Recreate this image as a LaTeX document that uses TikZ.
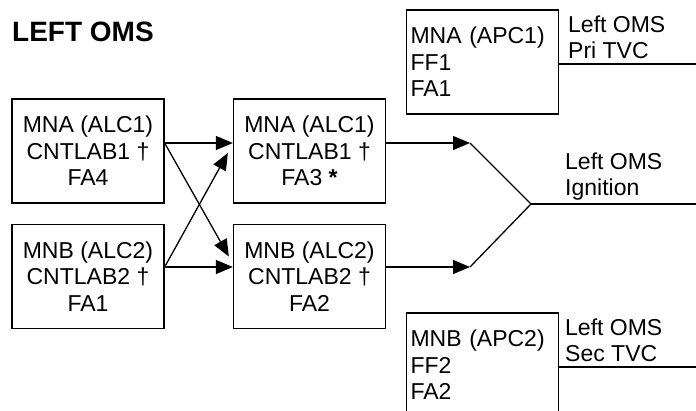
\documentclass[tikz,border=0pt]{standalone}
\usepackage{fontspec}
\setmainfont{Liberation Sans}
\usetikzlibrary{arrows.meta, calc}
\tikzset{
  oms@box/.style={
    draw, line width=1.3pt, minimum width=152pt, minimum height=104pt,
    inner sep=0pt, align=center, font=\fontsize{23}{26.5}\selectfont
  },
  oms@apc/.style={oms@box, align=left, text width=144pt, inner xsep=4pt},
  oms@lbl/.style={anchor=west, inner sep=2pt, align=left,
    font=\fontsize{23}{26}\selectfont},
  oms@arr/.style={-{Triangle[length=17pt,width=14pt]}, line width=1.3pt},
  oms@line/.style={line width=1.3pt},
}

\begin{document}
\begin{tikzpicture}[x=1pt, y=-1pt]
  \useasboundingbox (0,0) rectangle (696,410);
  \clip (0,0) rectangle (696,410);

  \node[anchor=west, inner sep=2pt, font=\fontsize{28}{30}\selectfont\bfseries]
    (title) at (10,32) {LEFT OMS};

  % ALC chains
  \node[oms@box] (alcA1) at (88,151)    {MNA (ALC1)\\CNTLAB1 †\\FA4};
  \node[oms@box] (alcB1) at (88,276.5)  {MNB (ALC2)\\CNTLAB2 †\\FA1};
  \node[oms@box] (alcA2) at (309.5,151)   {MNA (ALC1)\\CNTLAB1 †\\FA3 \textbf{*}};
  \node[oms@box] (alcB2) at (309.5,276.5) {MNB (ALC2)\\CNTLAB2 †\\FA2};

  % APC boxes
  \node[oms@apc] (apc1) at (482.5,62)  {MNA (APC1)\\FF1\\FA1};
  \node[oms@apc] (apc2) at (482.5,365) {MNB (APC2)\\FF2\\FA2};

  \coordinate (outA) at ([yshift=8pt]alcA1.east);
  \coordinate (outB) at ([yshift=9.5pt]alcB1.east);
  \coordinate (tipA) at (470,143);
  \coordinate (tipB) at (470,267);
  \coordinate (join) at (531,204);
  \coordinate (endIgn) at (696,204);
  \coordinate (endPri) at (696,64);
  \coordinate (endSec) at (696,367);

  \draw[oms@arr] (outA) -- ([yshift=8pt]alcA2.west);
  \draw[oms@arr] (outB) -- ([yshift=9.5pt]alcB2.west);
  \draw[oms@arr] (outA) -- ([xshift=-4pt,yshift=20pt]alcB2.west);
  \draw[oms@arr] (outB) -- ([xshift=-5pt,yshift=-2pt]alcA2.west);

  \draw[oms@arr] ([yshift=8pt]alcA2.east) -- (tipA);
  \draw[oms@arr] ([yshift=9.5pt]alcB2.east) -- (tipB);
  \draw[oms@line] (tipA) -- (join) -- (tipB);
  \draw[oms@line] (join) -- (endIgn);
  \draw[oms@line] (apc1.east |- endPri) -- (endPri);
  \draw[oms@line] (apc2.east |- endSec) -- (endSec);

  \node[oms@lbl] (lblPri) at (566,37.5) {Left OMS\\Pri TVC};
  \node[oms@lbl] (lblIgn) at (563,176.5) {Left OMS\\Ignition};
  \node[oms@lbl] (lblSec) at (563,340) {Left OMS\\Sec TVC};
\end{tikzpicture}
\end{document}
